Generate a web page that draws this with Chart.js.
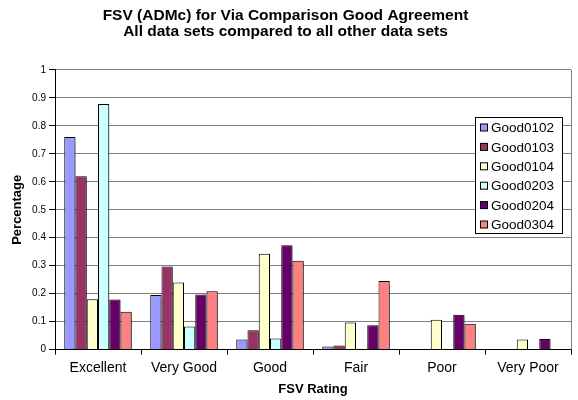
<!DOCTYPE html>
<html>
<head>
<meta charset="utf-8">
<script src="https://cdn.jsdelivr.net/npm/chart.js@4"></script>
<style>
  html, body { margin: 0; padding: 0; background: #fff; }
  #wrap { width: 578px; height: 400px; }
</style>
</head>
<body>
<div id="wrap"><canvas id="chart" width="578" height="400"></canvas></div>
<script>
// FSV rating categories and the six comparison series
const categories = ['Excellent', 'Very Good', 'Good', 'Fair', 'Poor', 'Very Poor'];
const seriesNames = ['Good0102', 'Good0103', 'Good0104', 'Good0203', 'Good0204', 'Good0304'];

const good0102 = [0.76, 0.195, 0.036, 0.011, 0, 0];
const good0103 = [0.62, 0.297, 0.069, 0.015, 0, 0];
const good0104 = [0.18, 0.24, 0.343, 0.097, 0.107, 0.036];
const good0203 = [0.878, 0.083, 0.04, 0, 0, 0];
const good0204 = [0.179, 0.197, 0.373, 0.087, 0.125, 0.038];
const good0304 = [0.135, 0.209, 0.318, 0.245, 0.092, 0];

const yTicks = [0, 0.1, 0.2, 0.3, 0.4, 0.5, 0.6, 0.7, 0.8, 0.9, 1];

const COLORS = ['#9999FF', '#993366', '#FFFFCC', '#CCFFFF', '#660066', '#FF8080'];
const FONT = "'Liberation Sans', Arial, sans-serif";

const seriesValues = [good0102, good0103, good0104, good0203, good0204, good0304];

// Excel-style legend box drawn over the plot area
const boxLegend = {
    id: 'boxLegend',
    afterDraw(chart) {
        const ctx = chart.ctx;
        const area = chart.chartArea;
        // right edge of the plot frame
        ctx.save();
        ctx.strokeStyle = '#808080';
        ctx.lineWidth = 1;
        ctx.beginPath();
        ctx.moveTo(area.right + 0.5, area.top);
        ctx.lineTo(area.right + 0.5, area.bottom);
        ctx.stroke();

        const x = 475.5, y = 117.5, w = 87, h = 116;
        ctx.fillStyle = '#fff';
        ctx.fillRect(x, y, w, h);
        ctx.strokeStyle = '#000';
        ctx.strokeRect(x, y, w, h);
        ctx.font = '13.5px ' + FONT;
        ctx.textBaseline = 'middle';
        chart.data.datasets.forEach((ds, i) => {
            const cy = 128 + i * 19.4;
            ctx.fillStyle = ds.backgroundColor;
            ctx.fillRect(480.5, cy - 4, 7, 7);
            ctx.strokeStyle = '#000';
            ctx.strokeRect(480.5, cy - 4, 7, 7);
            ctx.fillStyle = '#000';
            ctx.fillText(ds.label, 491, cy + 0.5);
        });
        ctx.restore();
    }
};

// soft drop shadow behind the bars
const barShadow = {
    id: 'barShadow',
    beforeDatasetsDraw(chart) {
        const ctx = chart.ctx;
        ctx.save();
        ctx.shadowColor = 'rgba(0,0,0,0.3)';
        ctx.shadowOffsetX = 2;
        ctx.shadowOffsetY = 1;
        ctx.shadowBlur = 1;
    },
    afterDatasetsDraw(chart) {
        chart.ctx.restore();
    }
};

new Chart(document.getElementById('chart'), {
    type: 'bar',
    data: {
        labels: categories,
        datasets: seriesNames.map((name, i) => ({
            label: name,
            data: seriesValues[i],
            backgroundColor: COLORS[i],
            borderColor: '#000',
            borderWidth: 1,
            borderSkipped: 'bottom',
            categoryPercentage: 0.785,
            barPercentage: 1,
        }))
    },
    options: {
        responsive: false,
        animation: false,
        layout: { padding: { left: 0, right: 7, top: 0, bottom: 3 } },
        plugins: {
            legend: { display: false },
            tooltip: { enabled: false },
            title: {
                display: true,
                text: ['FSV (ADMc) for Via Comparison Good Agreement', 'All data sets compared to all other data sets'],
                color: '#000',
                font: { family: FONT, size: 15.5, weight: 'bold', lineHeight: 1.05 },
                padding: { top: 7.5, bottom: 29.9 },
            }
        },
        scales: {
            x: {
                grid: {
                    display: true,
                    drawOnChartArea: false,
                    offset: true,
                    color: '#000',
                    tickLength: 5,
                },
                border: { color: '#000', width: 1 },
                ticks: {
                    color: '#000',
                    font: { family: FONT, size: 14 },
                    padding: 5,
                },
                title: {
                    display: true,
                    text: 'FSV Rating',
                    color: '#000',
                    font: { family: FONT, size: 13, weight: 'bold' },
                    padding: { top: 0, bottom: 0 },
                },
            },
            y: {
                min: 0,
                max: 1,
                afterBuildTicks(scale) {
                    scale.ticks = yTicks.map(v => ({ value: v }));
                },
                afterFit(scale) {
                    scale.width = 55;
                },
                grid: {
                    color: '#808080',
                    tickColor: '#000',
                    tickLength: 6,
                },
                border: { color: '#000', width: 1 },
                ticks: {
                    color: '#000',
                    font: { family: FONT, size: 10 },
                    padding: 3,
                    callback: v => String(Math.round(v * 10) / 10),
                },
                title: {
                    display: true,
                    text: 'Percentage',
                    color: '#000',
                    font: { family: FONT, size: 13, weight: 'bold' },
                    padding: { top: 9.5, bottom: 2 },
                },
            }
        }
    },
    plugins: [barShadow, boxLegend]
});
</script>
</body>
</html>
